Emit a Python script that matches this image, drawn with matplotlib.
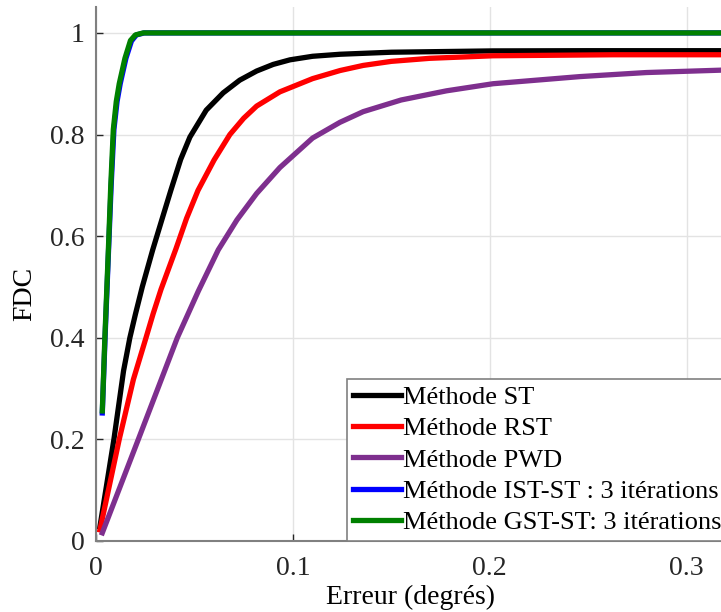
import matplotlib
matplotlib.use("Agg")
import matplotlib.pyplot as plt

plt.rcParams['font.family'] = ['Liberation Serif', 'DejaVu Serif']

# CDF curves
st_x = [0.002, 0.0091, 0.0140, 0.0172, 0.0200, 0.0235, 0.0288, 0.0335, 0.0380, 0.0430,
        0.0477, 0.0560, 0.0646, 0.0730, 0.0816, 0.0900, 0.0985, 0.1100, 0.1240, 0.1500,
        0.2016, 0.2500, 0.3200]
st_y = [0.028, 0.200, 0.335, 0.400, 0.446, 0.500, 0.573, 0.633, 0.690, 0.751,
        0.795, 0.848, 0.882, 0.907, 0.925, 0.938, 0.947, 0.954, 0.958, 0.962,
        0.9646, 0.965, 0.965]

rst_x = [0.002, 0.0118, 0.0190, 0.0254, 0.0290, 0.0330, 0.0406, 0.0460, 0.0518, 0.0600,
         0.0680, 0.0750, 0.0816, 0.0934, 0.1100, 0.1240, 0.1357, 0.1500, 0.1695, 0.2017,
         0.2626, 0.3200]
rst_y = [0.022, 0.200, 0.318, 0.400, 0.447, 0.495, 0.575, 0.635, 0.690, 0.750,
         0.800, 0.832, 0.856, 0.884, 0.910, 0.926, 0.936, 0.944, 0.950, 0.955,
         0.957, 0.957]

pwd_x = [0.0032, 0.0215, 0.0413, 0.0520, 0.0621, 0.0716, 0.0816, 0.0934, 0.1100, 0.1239,
         0.1357, 0.1550, 0.1780, 0.2017, 0.2457, 0.2795, 0.3200]
pwd_y = [0.016, 0.200, 0.400, 0.492, 0.573, 0.632, 0.684, 0.735, 0.793, 0.824,
         0.845, 0.868, 0.886, 0.900, 0.914, 0.922, 0.927]

ist_x = [0.0032, 0.0046, 0.0064, 0.0077, 0.0091, 0.0107, 0.0123, 0.0152, 0.0180, 0.0205,
         0.0245, 0.0300, 0.3200]
ist_y = [0.252, 0.400, 0.575, 0.700, 0.810, 0.865, 0.900, 0.950, 0.984, 0.996,
         1.000, 1.000, 1.000]

gst_x = [0.0032, 0.0045, 0.0063, 0.0075, 0.0088, 0.0103, 0.0118, 0.0147, 0.0175, 0.0200,
         0.0240, 0.0300, 0.3200]
gst_y = [0.256, 0.400, 0.575, 0.700, 0.810, 0.865, 0.900, 0.950, 0.985, 0.996,
         1.000, 1.000, 1.000]

labels = ['Méthode ST', 'Méthode RST', 'Méthode PWD',
          'Méthode IST-ST : 3 itérations', 'Méthode GST-ST: 3 itérations']
colors = ['#000000', '#FF0000', '#7E2F8E', '#0000FF', '#008000']

fig = plt.figure(figsize=(7.21, 6.12), dpi=100)
ax = fig.add_axes([96 / 721, 71 / 612, 630 / 721, 534 / 612])

curves = [(st_x, st_y), (rst_x, rst_y), (pwd_x, pwd_y), (ist_x, ist_y), (gst_x, gst_y)]
for (xs, ys), lab, col in zip(curves, labels, colors):
    ax.plot(xs, ys, color=col, lw=3.8, label=lab)

ax.set_xlim(0, 0.32)
ax.set_ylim(0, 1.051)
ax.set_xticks([0, 0.1, 0.2, 0.3])
ax.set_xticklabels(['0', '0.1', '0.2', '0.3'])
ax.set_yticks([0, 0.2, 0.4, 0.6, 0.8, 1])
ax.set_yticklabels(['0', '0.2', '0.4', '0.6', '0.8', '1'])
ax.tick_params(direction='in', length=5, width=1, colors='#262626',
               labelsize=20, pad=8)
ax.tick_params(axis='x', pad=11)
ax.grid(True, color='#e3e3e3', lw=1)
ax.set_axisbelow(True)

for s in ['top', 'right']:
    ax.spines[s].set_visible(False)
for s in ['left', 'bottom']:
    ax.spines[s].set_color('#808080')
    ax.spines[s].set_linewidth(1.5)

ax.set_xlabel('Erreur (degrés)', fontsize=20)
ax.set_ylabel('FDC', fontsize=20)
ax.xaxis.set_label_coords(0.5, -0.082)
ax.yaxis.set_label_coords(-0.094, 0.4625)

leg = ax.legend(loc='lower left', bbox_to_anchor=(0.398, 0.0), borderaxespad=0,
                fontsize=19, handlelength=1.8, handletextpad=0.1,
                labelspacing=0.3, borderpad=0.25, fancybox=False,
                framealpha=1, edgecolor='#808080')
leg.get_frame().set_linewidth(1.2)

fig.savefig('out.png', dpi=100)
